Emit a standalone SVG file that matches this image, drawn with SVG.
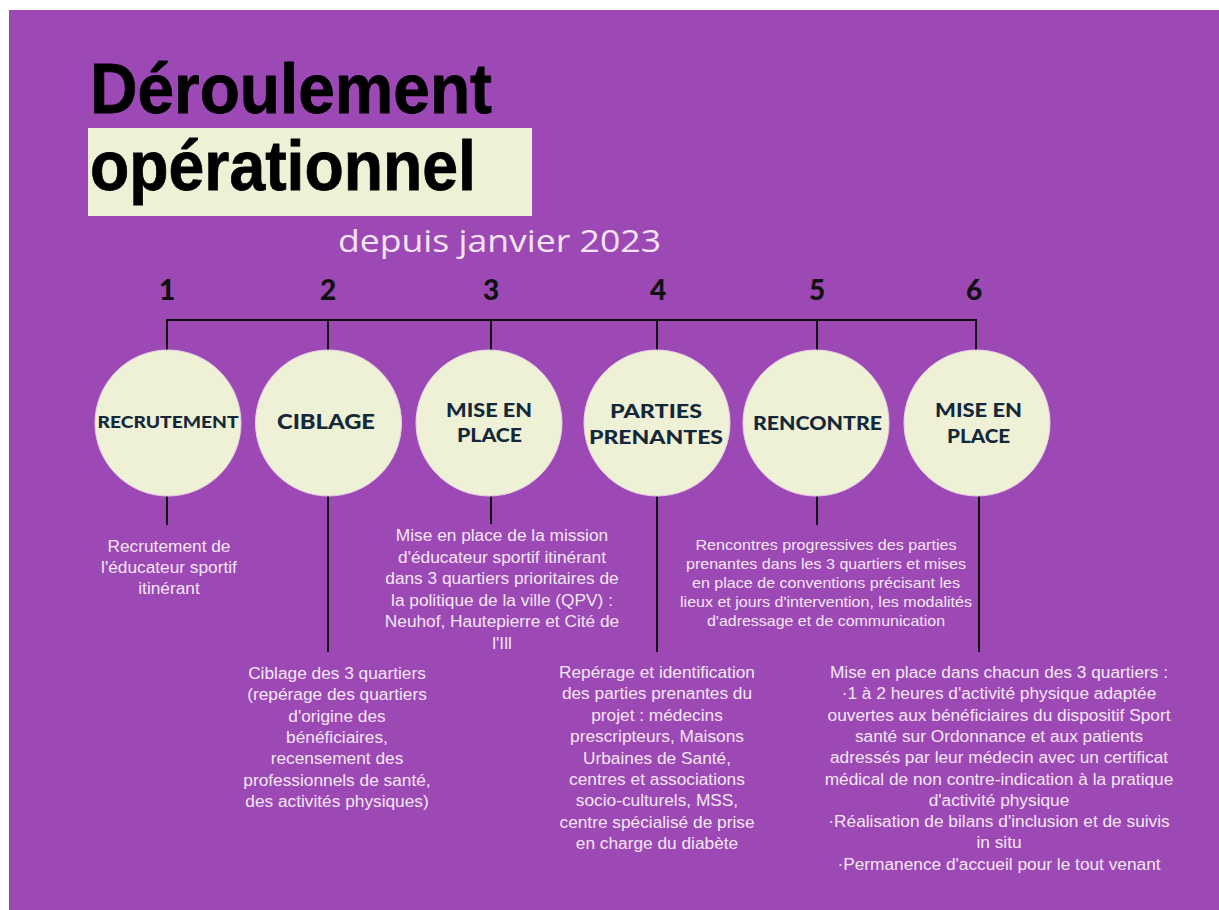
<svg xmlns="http://www.w3.org/2000/svg" width="1219" height="910" viewBox="0 0 1219 910">
<style>
.bg{fill:#9c48b5}
.hl{fill:#eef1d6}
.title{font-family:"Liberation Sans",Arial,sans-serif;font-weight:bold;font-size:70px;fill:#000;stroke:#000;stroke-width:0.8}
.sub{font-family:"Open Sans","Liberation Sans",sans-serif;font-size:31px;fill:#f6e4f6}
.num{font-family:Lato,"DejaVu Sans",sans-serif;font-weight:900;font-size:28px;fill:#111;text-anchor:middle}
.line{stroke:#111;stroke-width:2;fill:none}
.circ{fill:#eef1d6;stroke:#e8d0e4;stroke-width:1}
.lab{font-family:Lato,"DejaVu Sans",sans-serif;font-weight:900;fill:#14283a;text-anchor:middle}
.desc{font-family:"Liberation Sans",Arial,sans-serif;font-size:17.3px;fill:#f5e6f5;text-anchor:middle}
.desc2{font-family:"Liberation Sans",Arial,sans-serif;font-size:15px;fill:#f5e6f5;text-anchor:middle}
</style>
<rect x="0" y="0" width="1219" height="910" fill="#ffffff"/>
<rect class="bg" x="9" y="10" width="1210" height="900"/>
<g id="title">
<text class="title" x="90" y="113" textLength="402" lengthAdjust="spacingAndGlyphs">Déroulement</text>
<rect class="hl" x="88" y="128" width="444" height="88"/>
<text class="title" x="90" y="190" textLength="386" lengthAdjust="spacingAndGlyphs">opérationnel</text>
<text class="sub" x="338" y="252" textLength="323" lengthAdjust="spacingAndGlyphs">depuis janvier 2023</text>
</g>
<g id="numbers">
<text class="num" x="167" y="300">1</text>
<text class="num" x="328" y="300">2</text>
<text class="num" x="491" y="300">3</text>
<text class="num" x="658" y="300">4</text>
<text class="num" x="817" y="300">5</text>
<text class="num" x="974" y="300">6</text>
</g>
<g id="connectors">
<path class="line" d="M167 320H976"/>
<path class="line" d="M167 319V350M328 319V350M491 319V350M657 319V350M817 319V350M976 319V350"/>
<path class="line" d="M167 496V525M328 496V652M491 496V524M657 496V652M817 496V525M979 496V652"/>
</g>
<g id="node1">
<circle class="circ" cx="168" cy="423" r="73"/>
<text class="lab" x="168" y="428" font-size="16.5" textLength="141" lengthAdjust="spacingAndGlyphs">RECRUTEMENT</text>
<text class="desc" x="169" y="552">Recrutement de</text>
<text class="desc" x="169" y="573">l'éducateur sportif</text>
<text class="desc" x="169" y="594">itinérant</text>
</g>
<g id="node2">
<circle class="circ" cx="328.5" cy="423" r="73"/>
<text class="lab" x="326" y="429" font-size="20.5" textLength="98" lengthAdjust="spacingAndGlyphs">CIBLAGE</text>
<text class="desc" x="337" y="679">Ciblage des 3 quartiers</text>
<text class="desc" x="337" y="700.3">(repérage des quartiers</text>
<text class="desc" x="337" y="721.6">d'origine des</text>
<text class="desc" x="337" y="742.9">bénéficiaires,</text>
<text class="desc" x="337" y="764.2">recensement des</text>
<text class="desc" x="337" y="785.5">professionnels de santé,</text>
<text class="desc" x="337" y="806.8">des activités physiques)</text>
</g>
<g id="node3">
<circle class="circ" cx="489" cy="423" r="73"/>
<text class="lab" x="489" y="417" font-size="18" textLength="86" lengthAdjust="spacingAndGlyphs">MISE EN</text>
<text class="lab" x="489.5" y="442" font-size="18" textLength="65" lengthAdjust="spacingAndGlyphs">PLACE</text>
<text class="desc" x="502" y="541">Mise en place de la mission</text>
<text class="desc" x="502" y="562.6">d'éducateur sportif itinérant</text>
<text class="desc" x="502" y="584.2">dans 3 quartiers prioritaires de</text>
<text class="desc" x="502" y="605.8">la politique de la ville (QPV) :</text>
<text class="desc" x="502" y="627.4">Neuhof, Hautepierre et Cité de</text>
<text class="desc" x="502" y="649">l'Ill</text>
</g>
<g id="node4">
<circle class="circ" cx="657" cy="423" r="73"/>
<text class="lab" x="656" y="418" font-size="18.5" textLength="92" lengthAdjust="spacingAndGlyphs">PARTIES</text>
<text class="lab" x="656" y="444" font-size="18.5" textLength="134" lengthAdjust="spacingAndGlyphs">PRENANTES</text>
<text class="desc" x="657" y="678">Repérage et identification</text>
<text class="desc" x="657" y="699.4">des parties prenantes du</text>
<text class="desc" x="657" y="720.8">projet : médecins</text>
<text class="desc" x="657" y="742.2">prescripteurs, Maisons</text>
<text class="desc" x="657" y="763.6">Urbaines de Santé,</text>
<text class="desc" x="657" y="785">centres et associations</text>
<text class="desc" x="657" y="806.4">socio-culturels, MSS,</text>
<text class="desc" x="657" y="827.8">centre spécialisé de prise</text>
<text class="desc" x="657" y="849.2">en charge du diabète</text>
</g>
<g id="node5">
<circle class="circ" cx="816" cy="423" r="73"/>
<text class="lab" x="817.5" y="430" font-size="18.5" textLength="129" lengthAdjust="spacingAndGlyphs">RENCONTRE</text>
<text class="desc2" x="826" y="549.5" textLength="261" lengthAdjust="spacingAndGlyphs">Rencontres progressives des parties</text>
<text class="desc2" x="826" y="568.5" textLength="280" lengthAdjust="spacingAndGlyphs">prenantes dans les 3 quartiers et mises</text>
<text class="desc2" x="826" y="587.5" textLength="268" lengthAdjust="spacingAndGlyphs">en place de conventions précisant les</text>
<text class="desc2" x="826" y="606.5" textLength="292" lengthAdjust="spacingAndGlyphs">lieux et jours d'intervention, les modalités</text>
<text class="desc2" x="826" y="625.5" textLength="238" lengthAdjust="spacingAndGlyphs">d'adressage et de communication</text>
</g>
<g id="node6">
<circle class="circ" cx="977" cy="423" r="73"/>
<text class="lab" x="978.5" y="417" font-size="18" textLength="87" lengthAdjust="spacingAndGlyphs">MISE EN</text>
<text class="lab" x="978.5" y="443" font-size="18" textLength="63" lengthAdjust="spacingAndGlyphs">PLACE</text>
<text class="desc" x="999" y="678">Mise en place dans chacun des 3 quartiers :</text>
<text class="desc" x="999" y="699.3">·1 à 2 heures d'activité physique adaptée</text>
<text class="desc" x="999" y="720.6">ouvertes aux bénéficiaires du dispositif Sport</text>
<text class="desc" x="999" y="741.9">santé sur Ordonnance et aux patients</text>
<text class="desc" x="999" y="763.2">adressés par leur médecin avec un certificat</text>
<text class="desc" x="999" y="784.5">médical de non contre-indication à la pratique</text>
<text class="desc" x="999" y="805.8">d'activité physique</text>
<text class="desc" x="999" y="827.1">·Réalisation de bilans d'inclusion et de suivis</text>
<text class="desc" x="999" y="848.4">in situ</text>
<text class="desc" x="999" y="869.7">·Permanence d'accueil pour le tout venant</text>
</g>
</svg>
